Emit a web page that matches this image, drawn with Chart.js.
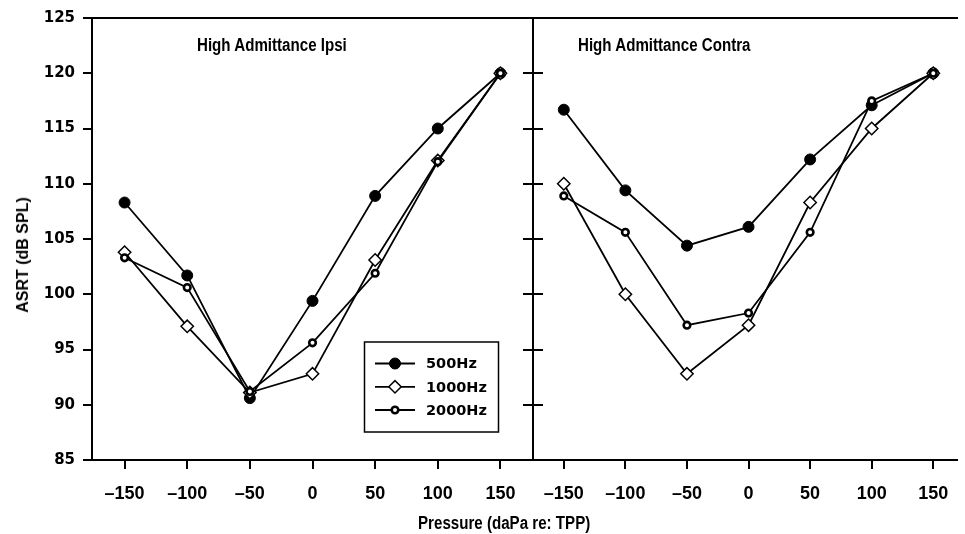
<!DOCTYPE html>
<html>
<head>
<meta charset="utf-8">
<script src="https://cdn.jsdelivr.net/npm/chart.js@4.4.0/dist/chart.umd.min.js"></script>
<style>
  body { margin: 0; background: #fff; width: 965px; height: 534px; overflow: hidden; position: relative; }
  #leftBox { position: absolute; left: 0; top: 0; width: 553px; height: 534px; }
  #rightBox { position: absolute; left: 513px; top: 0; width: 452px; height: 534px; }
  .txt { position: absolute; font: bold 18px "Liberation Sans", Arial, sans-serif; color: #000; white-space: nowrap; line-height: 18px; transform-origin: 0 0; transform: scaleX(0.84); }
</style>
</head>
<body>
<div id="leftBox"><canvas id="ipsi"></canvas></div>
<div id="rightBox"><canvas id="contra"></canvas></div>
<div class="txt" style="left:197px; top:36px;">High Admittance Ipsi</div>
<div class="txt" style="left:578px; top:36px;">High Admittance Contra</div>
<div class="txt" style="left:418px; top:514px;">Pressure (daPa re: TPP)</div>
<div class="txt" style="left:23px; top:255px; font-size:16px; transform-origin:50% 50%; transform:translate(-50%,-50%) rotate(-90deg);">ASRT (dB SPL)</div>
<script>
// data
const pressures = [-150, -100, -50, 0, 50, 100, 150];
const xTicks = [-150, -100, -50, 0, 50, 100, 150];
const yTicks = [85, 90, 95, 100, 105, 110, 115, 120, 125];
const seriesNames = ["500Hz", "1000Hz", "2000Hz"];

const ipsi500 = [108.3, 101.7, 90.6, 99.4, 108.9, 115.0, 120.0];
const ipsi1000 = [103.8, 97.1, 91.1, 92.8, 103.1, 112.1, 120.0];
const ipsi2000 = [103.3, 100.6, 91.2, 95.6, 101.9, 112.0, 120.0];

const contra500 = [116.7, 109.4, 104.4, 106.1, 112.2, 117.1, 120.0];
const contra1000 = [110.0, 100.0, 92.8, 97.2, 108.3, 115.0, 120.0];
const contra2000 = [108.9, 105.6, 97.2, 98.3, 105.6, 117.5, 120.0];

Chart.defaults.font.family = "'Liberation Sans', Arial, sans-serif";
Chart.defaults.color = "#000";

// marker look for each frequency
const markers = [
  { style: "circle", radius: 5.5, fill: "#000", bw: 1 },
  { style: "rectRot", radius: 6.2, fill: "#fff", bw: 1.5 },
  { style: "circle", radius: 3.3, fill: "#fff", bw: 2.6 },
];

function makeSets(series) {
  return series.map((vals, i) => ({
    label: seriesNames[i],
    data: pressures.map((p, j) => ({ x: p, y: vals[j] })),
    borderColor: "#000",
    borderWidth: 1.8,
    pointStyle: markers[i].style,
    pointRadius: markers[i].radius,
    pointHoverRadius: markers[i].radius,
    pointBackgroundColor: markers[i].fill,
    pointBorderColor: "#000",
    pointBorderWidth: markers[i].bw,
    order: 2 - i,
    tension: 0,
    fill: false,
  }));
}

const dash = (v) => (v < 0 ? "\u2013" + Math.abs(v) : String(v));

function setTicks(list) {
  return (scale) => {
    scale.ticks = list.map((v) => ({ value: v }));
  };
}

// box + lines + markers legend inside the left panel
const legendBox = {
  id: "legendBox",
  afterDraw(chart) {
    const ctx = chart.ctx;
    ctx.save();
    ctx.strokeStyle = "#000";
    ctx.lineWidth = 1.5;
    ctx.strokeRect(364.5, 342, 134, 90);
    const rows = [363.5, 386.8, 410];
    rows.forEach((y, i) => {
      ctx.lineWidth = 1.8;
      ctx.beginPath();
      ctx.moveTo(375, y);
      ctx.lineTo(415, y);
      ctx.stroke();
      ctx.fillStyle = markers[i].fill;
      ctx.lineWidth = markers[i].bw;
      Chart.helpers.drawPoint(ctx, { pointStyle: markers[i].style, radius: markers[i].radius, borderWidth: markers[i].bw, rotation: 0 }, 395, y);
      ctx.fillStyle = "#000";
      ctx.font = "bold 14.5px 'DejaVu Sans'";
      ctx.textBaseline = "middle";
      ctx.fillText(seriesNames[i], 426, y + 1);
    });
    ctx.restore();
  },
};

function makeChart(id, series, xMin, xMax, isLeft) {
  const scales = {
    x: {
      type: "linear",
      position: "bottom",
      min: xMin,
      max: xMax,
      afterBuildTicks: setTicks(xTicks),
      ticks: { callback: dash, font: { size: 18, weight: "bold" }, padding: 14, maxRotation: 0, autoSkip: false },
      grid: { drawOnChartArea: false, tickLength: 9, color: "#000", lineWidth: 2 },
      border: { color: "#000", width: 2 },
      afterFit: (s) => { s.height = 74; },
    },
    xTop: {
      type: "linear",
      position: "top",
      min: xMin,
      max: xMax,
      ticks: { display: false },
      grid: { display: false },
      border: { color: "#000", width: 2 },
      afterFit: (s) => { s.height = 0; },
    },
    y: {
      type: "linear",
      position: "left",
      min: 85,
      max: 125,
      afterBuildTicks: setTicks(yTicks),
      ticks: { display: isLeft, font: { family: "'DejaVu Sans'", size: 15, weight: "bold" }, padding: 8 },
      grid: { drawOnChartArea: false, tickLength: isLeft ? 9 : 10, color: "#000", lineWidth: 2 },
      border: { color: "#000", width: 2 },
      afterFit: (s) => { s.width = isLeft ? 92 : 20; },
    },
  };
  if (isLeft) {
    scales.yRight = {
      type: "linear",
      position: "right",
      min: 85,
      max: 125,
      afterBuildTicks: setTicks(yTicks),
      ticks: { display: false },
      grid: { drawOnChartArea: false, tickLength: 10, color: "#000", lineWidth: 2 },
      border: { color: "#000", width: 2 },
      afterFit: (s) => { s.width = 20; },
    };
  }
  return new Chart(document.getElementById(id), {
    type: "line",
    data: { datasets: makeSets(series) },
    options: {
      responsive: true,
      maintainAspectRatio: false,
      animation: false,
      layout: { padding: { top: 18, left: 0, right: 0, bottom: 0 } },
      plugins: { legend: { display: false }, tooltip: { enabled: false }, title: { display: false } },
      scales: scales,
    },
    plugins: isLeft ? [legendBox] : [],
  });
}

makeChart("ipsi", [ipsi500, ipsi1000, ipsi2000], -176, 176, true);
makeChart("contra", [contra500, contra1000, contra2000], -175, 169.5, false);
</script>
</body>
</html>
